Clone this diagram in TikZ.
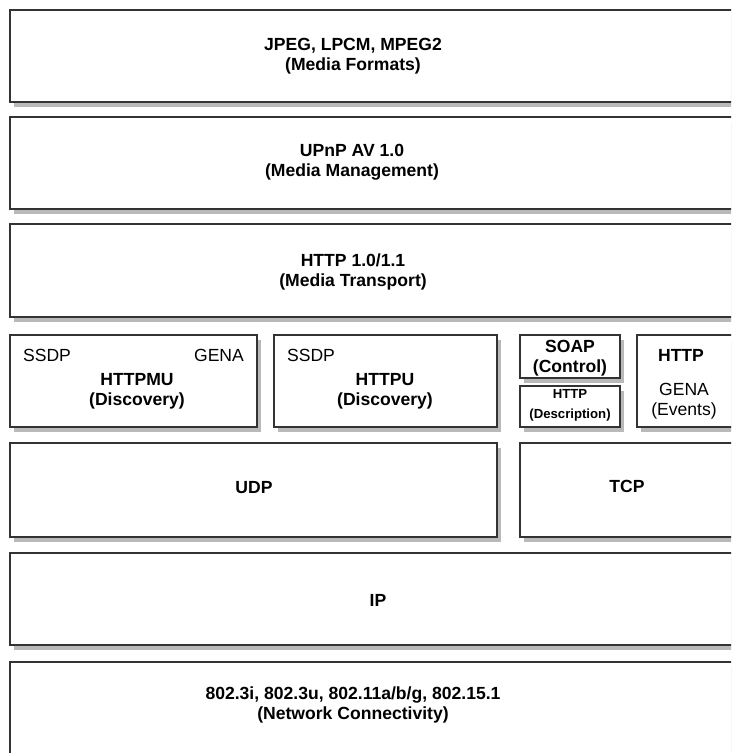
\documentclass[tikz,border=0pt]{standalone}
\usepackage{fontspec}
\setmainfont{Liberation Sans}
\usepackage{tikz}
\usetikzlibrary{shadows}

\begin{document}
\begin{tikzpicture}[x=0.02cm, y=-0.02cm,
    layer/.style 2 args={rectangle, draw=black!80, line width=1pt, fill=white,
        drop shadow={shadow xshift=2.5pt, shadow yshift=-3pt, fill=black!55},
        minimum width=#1*0.02cm, minimum height=#2*0.02cm, inner sep=0pt},
    lbl/.style={font=\bfseries\fontsize{10}{11.4}\selectfont, align=center, inner sep=0pt},
    thin/.style={font=\fontsize{10}{11.4}\selectfont, align=center, inner sep=0pt},
    tiny/.style={font=\bfseries\fontsize{7.5}{11.4}\selectfont, align=center, inner sep=0pt}
]
\clip (0,0) rectangle (731,753);

% Upper layers
\node[layer={740}{92}] (formats) at (380,56) {};
\node[lbl] (formats-t) at (353,56) {JPEG, LPCM, MPEG2\\(Media Formats)};
\node[layer={740}{92}] (upnp) at (380,163) {};
\node[lbl] (upnp-t) at (352,162) {UPnP AV 1.0\\(Media Management)};
\node[layer={740}{93}] (transport) at (380,270.5) {};
\node[lbl] (transport-t) at (353,272) {HTTP 1.0/1.1\\(Media Transport)};

% Discovery, control, events
\node[layer={247}{92}] (httpmu) at (133.5,381) {};
\node[thin] (ssdp1) at (47,355) {SSDP};
\node[thin] (gena1) at (219,355) {GENA};
\node[lbl] (httpmu-t) at (137,391) {HTTPMU\\(Discovery)};
\node[layer={223}{92}] (httpu) at (385.5,381) {};
\node[thin] (ssdp2) at (311,355) {SSDP};
\node[lbl] (httpu-t) at (385,391) {HTTPU\\(Discovery)};
\node[layer={100}{43}] (soap) at (570,356.5) {};
\node[lbl] (soap-t) at (570,358) {SOAP\\(Control)};
\node[layer={100}{41}] (descr) at (570,406.5) {};
\node[tiny] (descr-t) at (570,405) {HTTP\\(Description)};
\node[layer={113}{92}] (events) at (693.5,381) {};
\node[lbl] (events-h) at (681,355) {HTTP};
\node[thin] (events-t) at (684,401) {GENA\\(Events)};

% Transport
\node[layer={487}{94}] (udp) at (253.5,490) {};
\node[lbl] (udp-t) at (254,488) {UDP};
\node[layer={230}{94}] (tcp) at (635,490) {};
\node[lbl] (tcp-t) at (627,486) {TCP};

% Lower layers
\node[layer={740}{92}] (ip) at (380,599) {};
\node[lbl] (ip-t) at (378,600) {IP};
\node[layer={740}{98}] (phy) at (380,711) {};
\node[lbl] (phy-t) at (353,705) {802.3i, 802.3u, 802.11a/b/g, 802.15.1\\(Network Connectivity)};
\end{tikzpicture}
\end{document}
